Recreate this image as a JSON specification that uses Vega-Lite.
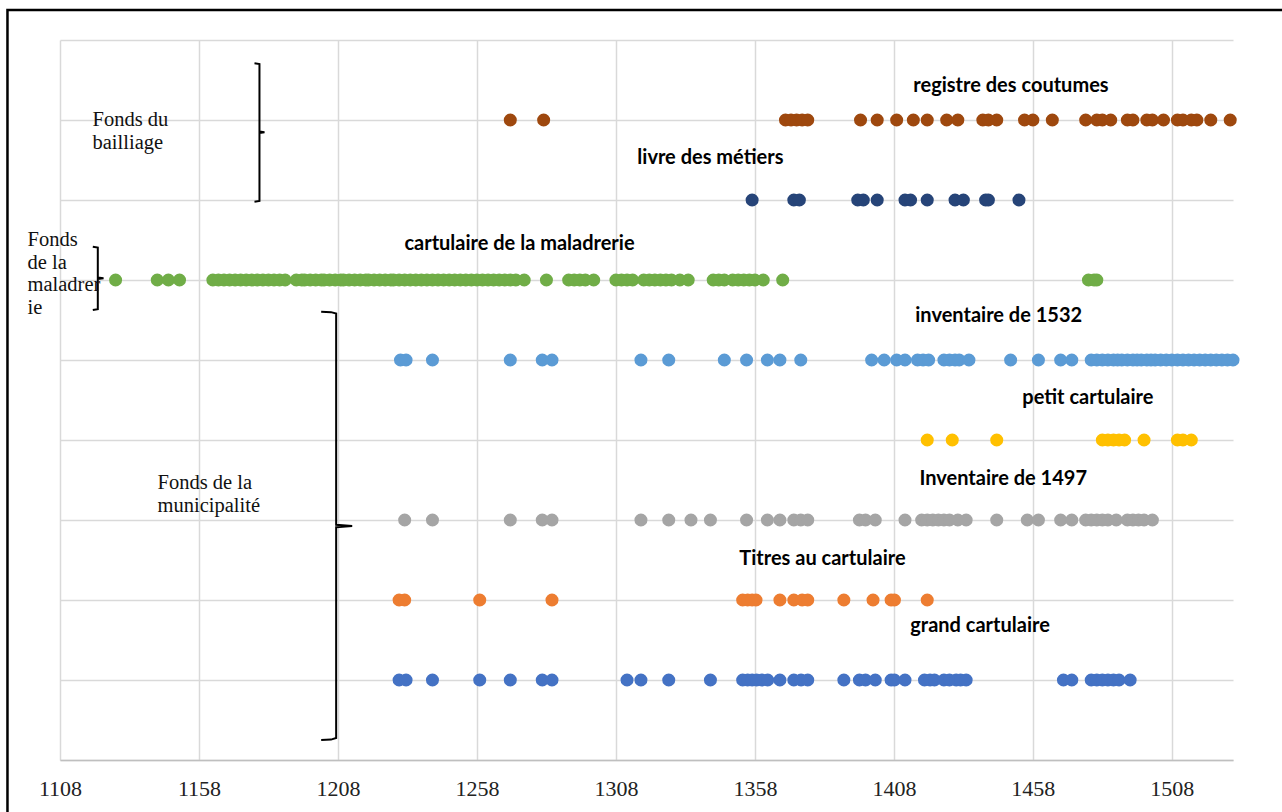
{
"$schema": "https://vega.github.io/schema/vega-lite/v6.json",
"width": 1173, "height": 720,
"autosize": "none",
"padding": {"left": 60, "top": 40, "right": 49, "bottom": 52},
"background": "white",
"config": {"view": {"stroke": null}},
"datasets": {
"frame": [{"year": 1089.1, "year_end": 1600, "row": 9.375, "row_end": -2}],
"points": [
{"doc":"registre des coutumes","row":8,"year":1270},{"doc":"registre des coutumes","row":8,"year":1282},{"doc":"registre des coutumes","row":8,"year":1369},{"doc":"registre des coutumes","row":8,"year":1371},{"doc":"registre des coutumes","row":8,"year":1373},{"doc":"registre des coutumes","row":8,"year":1375},{"doc":"registre des coutumes","row":8,"year":1377},{"doc":"registre des coutumes","row":8,"year":1396},{"doc":"registre des coutumes","row":8,"year":1402},{"doc":"registre des coutumes","row":8,"year":1409},{"doc":"registre des coutumes","row":8,"year":1415},{"doc":"registre des coutumes","row":8,"year":1420},{"doc":"registre des coutumes","row":8,"year":1427},{"doc":"registre des coutumes","row":8,"year":1431},{"doc":"registre des coutumes","row":8,"year":1440},{"doc":"registre des coutumes","row":8,"year":1442},{"doc":"registre des coutumes","row":8,"year":1445},{"doc":"registre des coutumes","row":8,"year":1455},{"doc":"registre des coutumes","row":8,"year":1458},{"doc":"registre des coutumes","row":8,"year":1465},{"doc":"registre des coutumes","row":8,"year":1477},{"doc":"registre des coutumes","row":8,"year":1481},{"doc":"registre des coutumes","row":8,"year":1483},{"doc":"registre des coutumes","row":8,"year":1486},{"doc":"registre des coutumes","row":8,"year":1492},{"doc":"registre des coutumes","row":8,"year":1494},{"doc":"registre des coutumes","row":8,"year":1499},{"doc":"registre des coutumes","row":8,"year":1501},{"doc":"registre des coutumes","row":8,"year":1505},{"doc":"registre des coutumes","row":8,"year":1510},{"doc":"registre des coutumes","row":8,"year":1512},{"doc":"registre des coutumes","row":8,"year":1515},{"doc":"registre des coutumes","row":8,"year":1517},{"doc":"registre des coutumes","row":8,"year":1522},{"doc":"registre des coutumes","row":8,"year":1529},
{"doc":"livre des métiers","row":7,"year":1357},{"doc":"livre des métiers","row":7,"year":1372},{"doc":"livre des métiers","row":7,"year":1374},{"doc":"livre des métiers","row":7,"year":1395},{"doc":"livre des métiers","row":7,"year":1397},{"doc":"livre des métiers","row":7,"year":1402},{"doc":"livre des métiers","row":7,"year":1412},{"doc":"livre des métiers","row":7,"year":1414},{"doc":"livre des métiers","row":7,"year":1420},{"doc":"livre des métiers","row":7,"year":1430},{"doc":"livre des métiers","row":7,"year":1433},{"doc":"livre des métiers","row":7,"year":1441},{"doc":"livre des métiers","row":7,"year":1442},{"doc":"livre des métiers","row":7,"year":1453},
{"doc":"cartulaire de la maladrerie","row":6,"year":1128},{"doc":"cartulaire de la maladrerie","row":6,"year":1143},{"doc":"cartulaire de la maladrerie","row":6,"year":1147},{"doc":"cartulaire de la maladrerie","row":6,"year":1151},{"doc":"cartulaire de la maladrerie","row":6,"year":1163},{"doc":"cartulaire de la maladrerie","row":6,"year":1165},{"doc":"cartulaire de la maladrerie","row":6,"year":1167},{"doc":"cartulaire de la maladrerie","row":6,"year":1169},{"doc":"cartulaire de la maladrerie","row":6,"year":1171},{"doc":"cartulaire de la maladrerie","row":6,"year":1173},{"doc":"cartulaire de la maladrerie","row":6,"year":1175},{"doc":"cartulaire de la maladrerie","row":6,"year":1177},{"doc":"cartulaire de la maladrerie","row":6,"year":1179},{"doc":"cartulaire de la maladrerie","row":6,"year":1181},{"doc":"cartulaire de la maladrerie","row":6,"year":1183},{"doc":"cartulaire de la maladrerie","row":6,"year":1185},{"doc":"cartulaire de la maladrerie","row":6,"year":1187},{"doc":"cartulaire de la maladrerie","row":6,"year":1189},{"doc":"cartulaire de la maladrerie","row":6,"year":1193},{"doc":"cartulaire de la maladrerie","row":6,"year":1195},{"doc":"cartulaire de la maladrerie","row":6,"year":1196},{"doc":"cartulaire de la maladrerie","row":6,"year":1198},{"doc":"cartulaire de la maladrerie","row":6,"year":1200},{"doc":"cartulaire de la maladrerie","row":6,"year":1202},{"doc":"cartulaire de la maladrerie","row":6,"year":1203},{"doc":"cartulaire de la maladrerie","row":6,"year":1205},{"doc":"cartulaire de la maladrerie","row":6,"year":1207},{"doc":"cartulaire de la maladrerie","row":6,"year":1209},{"doc":"cartulaire de la maladrerie","row":6,"year":1210},{"doc":"cartulaire de la maladrerie","row":6,"year":1212},{"doc":"cartulaire de la maladrerie","row":6,"year":1214},{"doc":"cartulaire de la maladrerie","row":6,"year":1216},{"doc":"cartulaire de la maladrerie","row":6,"year":1218},{"doc":"cartulaire de la maladrerie","row":6,"year":1219},{"doc":"cartulaire de la maladrerie","row":6,"year":1221},{"doc":"cartulaire de la maladrerie","row":6,"year":1223},{"doc":"cartulaire de la maladrerie","row":6,"year":1225},{"doc":"cartulaire de la maladrerie","row":6,"year":1227},{"doc":"cartulaire de la maladrerie","row":6,"year":1228},{"doc":"cartulaire de la maladrerie","row":6,"year":1230},{"doc":"cartulaire de la maladrerie","row":6,"year":1232},{"doc":"cartulaire de la maladrerie","row":6,"year":1234},{"doc":"cartulaire de la maladrerie","row":6,"year":1236},{"doc":"cartulaire de la maladrerie","row":6,"year":1238},{"doc":"cartulaire de la maladrerie","row":6,"year":1240},{"doc":"cartulaire de la maladrerie","row":6,"year":1242},{"doc":"cartulaire de la maladrerie","row":6,"year":1244},{"doc":"cartulaire de la maladrerie","row":6,"year":1246},{"doc":"cartulaire de la maladrerie","row":6,"year":1248},{"doc":"cartulaire de la maladrerie","row":6,"year":1250},{"doc":"cartulaire de la maladrerie","row":6,"year":1252},{"doc":"cartulaire de la maladrerie","row":6,"year":1254},{"doc":"cartulaire de la maladrerie","row":6,"year":1256},{"doc":"cartulaire de la maladrerie","row":6,"year":1258},{"doc":"cartulaire de la maladrerie","row":6,"year":1260},{"doc":"cartulaire de la maladrerie","row":6,"year":1262},{"doc":"cartulaire de la maladrerie","row":6,"year":1264},{"doc":"cartulaire de la maladrerie","row":6,"year":1266},{"doc":"cartulaire de la maladrerie","row":6,"year":1268},{"doc":"cartulaire de la maladrerie","row":6,"year":1270},{"doc":"cartulaire de la maladrerie","row":6,"year":1272},{"doc":"cartulaire de la maladrerie","row":6,"year":1275},{"doc":"cartulaire de la maladrerie","row":6,"year":1283},{"doc":"cartulaire de la maladrerie","row":6,"year":1291},{"doc":"cartulaire de la maladrerie","row":6,"year":1293},{"doc":"cartulaire de la maladrerie","row":6,"year":1295},{"doc":"cartulaire de la maladrerie","row":6,"year":1297},{"doc":"cartulaire de la maladrerie","row":6,"year":1300},{"doc":"cartulaire de la maladrerie","row":6,"year":1308},{"doc":"cartulaire de la maladrerie","row":6,"year":1310},{"doc":"cartulaire de la maladrerie","row":6,"year":1312},{"doc":"cartulaire de la maladrerie","row":6,"year":1314},{"doc":"cartulaire de la maladrerie","row":6,"year":1318},{"doc":"cartulaire de la maladrerie","row":6,"year":1320},{"doc":"cartulaire de la maladrerie","row":6,"year":1322},{"doc":"cartulaire de la maladrerie","row":6,"year":1324},{"doc":"cartulaire de la maladrerie","row":6,"year":1326},{"doc":"cartulaire de la maladrerie","row":6,"year":1328},{"doc":"cartulaire de la maladrerie","row":6,"year":1331},{"doc":"cartulaire de la maladrerie","row":6,"year":1334},{"doc":"cartulaire de la maladrerie","row":6,"year":1343},{"doc":"cartulaire de la maladrerie","row":6,"year":1345},{"doc":"cartulaire de la maladrerie","row":6,"year":1347},{"doc":"cartulaire de la maladrerie","row":6,"year":1350},{"doc":"cartulaire de la maladrerie","row":6,"year":1352},{"doc":"cartulaire de la maladrerie","row":6,"year":1354},{"doc":"cartulaire de la maladrerie","row":6,"year":1356},{"doc":"cartulaire de la maladrerie","row":6,"year":1358},{"doc":"cartulaire de la maladrerie","row":6,"year":1361},{"doc":"cartulaire de la maladrerie","row":6,"year":1368},{"doc":"cartulaire de la maladrerie","row":6,"year":1478},{"doc":"cartulaire de la maladrerie","row":6,"year":1480},{"doc":"cartulaire de la maladrerie","row":6,"year":1481},
{"doc":"inventaire de 1532","row":5,"year":1230.5},{"doc":"inventaire de 1532","row":5,"year":1232.5},{"doc":"inventaire de 1532","row":5,"year":1242},{"doc":"inventaire de 1532","row":5,"year":1270},{"doc":"inventaire de 1532","row":5,"year":1281.5},{"doc":"inventaire de 1532","row":5,"year":1285},{"doc":"inventaire de 1532","row":5,"year":1317},{"doc":"inventaire de 1532","row":5,"year":1327},{"doc":"inventaire de 1532","row":5,"year":1347},{"doc":"inventaire de 1532","row":5,"year":1355},{"doc":"inventaire de 1532","row":5,"year":1362.5},{"doc":"inventaire de 1532","row":5,"year":1367},{"doc":"inventaire de 1532","row":5,"year":1374.5},{"doc":"inventaire de 1532","row":5,"year":1400},{"doc":"inventaire de 1532","row":5,"year":1404.5},{"doc":"inventaire de 1532","row":5,"year":1409},{"doc":"inventaire de 1532","row":5,"year":1412},{"doc":"inventaire de 1532","row":5,"year":1416.5},{"doc":"inventaire de 1532","row":5,"year":1418.5},{"doc":"inventaire de 1532","row":5,"year":1420.5},{"doc":"inventaire de 1532","row":5,"year":1426},{"doc":"inventaire de 1532","row":5,"year":1428},{"doc":"inventaire de 1532","row":5,"year":1430},{"doc":"inventaire de 1532","row":5,"year":1431.5},{"doc":"inventaire de 1532","row":5,"year":1435},{"doc":"inventaire de 1532","row":5,"year":1450},{"doc":"inventaire de 1532","row":5,"year":1460},{"doc":"inventaire de 1532","row":5,"year":1468},{"doc":"inventaire de 1532","row":5,"year":1472},{"doc":"inventaire de 1532","row":5,"year":1479},{"doc":"inventaire de 1532","row":5,"year":1481},{"doc":"inventaire de 1532","row":5,"year":1483},{"doc":"inventaire de 1532","row":5,"year":1485},{"doc":"inventaire de 1532","row":5,"year":1487},{"doc":"inventaire de 1532","row":5,"year":1488.5},{"doc":"inventaire de 1532","row":5,"year":1490},{"doc":"inventaire de 1532","row":5,"year":1492},{"doc":"inventaire de 1532","row":5,"year":1494},{"doc":"inventaire de 1532","row":5,"year":1495.5},{"doc":"inventaire de 1532","row":5,"year":1497},{"doc":"inventaire de 1532","row":5,"year":1499},{"doc":"inventaire de 1532","row":5,"year":1500.5},{"doc":"inventaire de 1532","row":5,"year":1502},{"doc":"inventaire de 1532","row":5,"year":1504},{"doc":"inventaire de 1532","row":5,"year":1506},{"doc":"inventaire de 1532","row":5,"year":1508},{"doc":"inventaire de 1532","row":5,"year":1510},{"doc":"inventaire de 1532","row":5,"year":1512},{"doc":"inventaire de 1532","row":5,"year":1514},{"doc":"inventaire de 1532","row":5,"year":1516},{"doc":"inventaire de 1532","row":5,"year":1518},{"doc":"inventaire de 1532","row":5,"year":1520},{"doc":"inventaire de 1532","row":5,"year":1522},{"doc":"inventaire de 1532","row":5,"year":1524},{"doc":"inventaire de 1532","row":5,"year":1526},{"doc":"inventaire de 1532","row":5,"year":1528},{"doc":"inventaire de 1532","row":5,"year":1530},
{"doc":"petit cartulaire","row":4,"year":1420},{"doc":"petit cartulaire","row":4,"year":1429},{"doc":"petit cartulaire","row":4,"year":1445},{"doc":"petit cartulaire","row":4,"year":1483},{"doc":"petit cartulaire","row":4,"year":1485},{"doc":"petit cartulaire","row":4,"year":1487},{"doc":"petit cartulaire","row":4,"year":1489},{"doc":"petit cartulaire","row":4,"year":1491},{"doc":"petit cartulaire","row":4,"year":1498},{"doc":"petit cartulaire","row":4,"year":1510},{"doc":"petit cartulaire","row":4,"year":1512},{"doc":"petit cartulaire","row":4,"year":1515},
{"doc":"Inventaire de 1497","row":3,"year":1232},{"doc":"Inventaire de 1497","row":3,"year":1242},{"doc":"Inventaire de 1497","row":3,"year":1270},{"doc":"Inventaire de 1497","row":3,"year":1281.5},{"doc":"Inventaire de 1497","row":3,"year":1285},{"doc":"Inventaire de 1497","row":3,"year":1317},{"doc":"Inventaire de 1497","row":3,"year":1327},{"doc":"Inventaire de 1497","row":3,"year":1335},{"doc":"Inventaire de 1497","row":3,"year":1342},{"doc":"Inventaire de 1497","row":3,"year":1355},{"doc":"Inventaire de 1497","row":3,"year":1362.5},{"doc":"Inventaire de 1497","row":3,"year":1367},{"doc":"Inventaire de 1497","row":3,"year":1372},{"doc":"Inventaire de 1497","row":3,"year":1374.5},{"doc":"Inventaire de 1497","row":3,"year":1377},{"doc":"Inventaire de 1497","row":3,"year":1395.6},{"doc":"Inventaire de 1497","row":3,"year":1397.8},{"doc":"Inventaire de 1497","row":3,"year":1401.3},{"doc":"Inventaire de 1497","row":3,"year":1412},{"doc":"Inventaire de 1497","row":3,"year":1418},{"doc":"Inventaire de 1497","row":3,"year":1420},{"doc":"Inventaire de 1497","row":3,"year":1422},{"doc":"Inventaire de 1497","row":3,"year":1424},{"doc":"Inventaire de 1497","row":3,"year":1426},{"doc":"Inventaire de 1497","row":3,"year":1428},{"doc":"Inventaire de 1497","row":3,"year":1431},{"doc":"Inventaire de 1497","row":3,"year":1434},{"doc":"Inventaire de 1497","row":3,"year":1445},{"doc":"Inventaire de 1497","row":3,"year":1456},{"doc":"Inventaire de 1497","row":3,"year":1460},{"doc":"Inventaire de 1497","row":3,"year":1468},{"doc":"Inventaire de 1497","row":3,"year":1472},{"doc":"Inventaire de 1497","row":3,"year":1477},{"doc":"Inventaire de 1497","row":3,"year":1479},{"doc":"Inventaire de 1497","row":3,"year":1481},{"doc":"Inventaire de 1497","row":3,"year":1483},{"doc":"Inventaire de 1497","row":3,"year":1485},{"doc":"Inventaire de 1497","row":3,"year":1488},{"doc":"Inventaire de 1497","row":3,"year":1492},{"doc":"Inventaire de 1497","row":3,"year":1494},{"doc":"Inventaire de 1497","row":3,"year":1496},{"doc":"Inventaire de 1497","row":3,"year":1498},{"doc":"Inventaire de 1497","row":3,"year":1501},
{"doc":"Titres au cartulaire","row":2,"year":1230},{"doc":"Titres au cartulaire","row":2,"year":1232},{"doc":"Titres au cartulaire","row":2,"year":1259},{"doc":"Titres au cartulaire","row":2,"year":1285},{"doc":"Titres au cartulaire","row":2,"year":1353.6},{"doc":"Titres au cartulaire","row":2,"year":1355.4},{"doc":"Titres au cartulaire","row":2,"year":1357},{"doc":"Titres au cartulaire","row":2,"year":1358.4},{"doc":"Titres au cartulaire","row":2,"year":1367},{"doc":"Titres au cartulaire","row":2,"year":1372},{"doc":"Titres au cartulaire","row":2,"year":1375},{"doc":"Titres au cartulaire","row":2,"year":1377},{"doc":"Titres au cartulaire","row":2,"year":1390},{"doc":"Titres au cartulaire","row":2,"year":1400.5},{"doc":"Titres au cartulaire","row":2,"year":1407},{"doc":"Titres au cartulaire","row":2,"year":1408.2},{"doc":"Titres au cartulaire","row":2,"year":1420},
{"doc":"grand cartulaire","row":1,"year":1230},{"doc":"grand cartulaire","row":1,"year":1232.5},{"doc":"grand cartulaire","row":1,"year":1242},{"doc":"grand cartulaire","row":1,"year":1259},{"doc":"grand cartulaire","row":1,"year":1270},{"doc":"grand cartulaire","row":1,"year":1281.5},{"doc":"grand cartulaire","row":1,"year":1285},{"doc":"grand cartulaire","row":1,"year":1312},{"doc":"grand cartulaire","row":1,"year":1317},{"doc":"grand cartulaire","row":1,"year":1327},{"doc":"grand cartulaire","row":1,"year":1342},{"doc":"grand cartulaire","row":1,"year":1353.6},{"doc":"grand cartulaire","row":1,"year":1355.4},{"doc":"grand cartulaire","row":1,"year":1357},{"doc":"grand cartulaire","row":1,"year":1358.6},{"doc":"grand cartulaire","row":1,"year":1360.5},{"doc":"grand cartulaire","row":1,"year":1362.6},{"doc":"grand cartulaire","row":1,"year":1367},{"doc":"grand cartulaire","row":1,"year":1372},{"doc":"grand cartulaire","row":1,"year":1374.6},{"doc":"grand cartulaire","row":1,"year":1377},{"doc":"grand cartulaire","row":1,"year":1390},{"doc":"grand cartulaire","row":1,"year":1395.6},{"doc":"grand cartulaire","row":1,"year":1397.8},{"doc":"grand cartulaire","row":1,"year":1401.3},{"doc":"grand cartulaire","row":1,"year":1407},{"doc":"grand cartulaire","row":1,"year":1408.2},{"doc":"grand cartulaire","row":1,"year":1412},{"doc":"grand cartulaire","row":1,"year":1419},{"doc":"grand cartulaire","row":1,"year":1421},{"doc":"grand cartulaire","row":1,"year":1422.6},{"doc":"grand cartulaire","row":1,"year":1426},{"doc":"grand cartulaire","row":1,"year":1428},{"doc":"grand cartulaire","row":1,"year":1430.4},{"doc":"grand cartulaire","row":1,"year":1432},{"doc":"grand cartulaire","row":1,"year":1434},{"doc":"grand cartulaire","row":1,"year":1469},{"doc":"grand cartulaire","row":1,"year":1472},{"doc":"grand cartulaire","row":1,"year":1479},{"doc":"grand cartulaire","row":1,"year":1481},{"doc":"grand cartulaire","row":1,"year":1483},{"doc":"grand cartulaire","row":1,"year":1485},{"doc":"grand cartulaire","row":1,"year":1487},{"doc":"grand cartulaire","row":1,"year":1489},{"doc":"grand cartulaire","row":1,"year":1493}
],
"labels": [
{"label":"registre des coutumes","year":1415.0,"row":8.425},
{"label":"livre des métiers","year":1315.7,"row":7.525},
{"label":"cartulaire de la maladrerie","year":1231.9,"row":6.45},
{"label":"inventaire de 1532","year":1415.7,"row":5.55},
{"label":"petit cartulaire","year":1454.2,"row":4.525},
{"label":"Inventaire de 1497","year":1417.2,"row":3.5125},
{"label":"Titres au cartulaire","year":1352.4,"row":2.5125},
{"label":"grand cartulaire","year":1413.9,"row":1.675}
],
"groups": [
{"label":"Fonds du\nbailliage","year":1119.7,"row":8.0},
{"label":"Fonds\nde la\nmaladrer\nie","year":1096.3,"row":6.5},
{"label":"Fonds de la\nmunicipalité","year":1143.1,"row":3.4625}
],
"brackets": [
{"b":1,"i":0,"year":1177.97,"row":8.709},{"b":1,"i":1,"year":1179.76,"row":8.70},{"b":1,"i":2,"year":1179.76,"row":7.855},{"b":1,"i":3,"year":1181.56,"row":7.846},{"b":1,"i":4,"year":1179.76,"row":7.837},{"b":1,"i":5,"year":1179.76,"row":6.988},{"b":1,"i":6,"year":1177.97,"row":6.979},
{"b":2,"i":0,"year":1119.8,"row":6.416},{"b":2,"i":1,"year":1121.6,"row":6.405},{"b":2,"i":2,"year":1121.6,"row":6.03},{"b":2,"i":3,"year":1123.65,"row":6.021},{"b":2,"i":4,"year":1121.6,"row":6.012},{"b":2,"i":5,"year":1121.6,"row":5.636},{"b":2,"i":6,"year":1119.8,"row":5.625},
{"b":3,"i":0,"year":1201.96,"row":5.604},{"b":3,"i":1,"year":1205.5,"row":5.598},{"b":3,"i":2,"year":1207.35,"row":5.58},{"b":3,"i":3,"year":1207.35,"row":2.94},{"b":3,"i":4,"year":1213.11,"row":2.925},{"b":3,"i":5,"year":1207.35,"row":2.91},{"b":3,"i":6,"year":1207.35,"row":0.275},{"b":3,"i":7,"year":1205.5,"row":0.255},{"b":3,"i":8,"year":1201.96,"row":0.25}
]
},
"encoding": {
"x": {"field": "year", "type": "quantitative",
  "scale": {"domain": [1108, 1530], "nice": false, "zero": false},
  "axis": {"values": [1108,1158,1208,1258,1308,1358,1408,1458,1508], "format": "d", "title": null,
    "grid": true, "gridColor": "#d9d9d9", "gridWidth": 1.5, "ticks": false, "tickSize": 0,
    "domainColor": "#bfbfbf", "domainWidth": 1.5,
    "labelFont": "Liberation Serif", "labelFontSize": 22, "labelColor": "#222222",
    "labelPadding": 28, "labelBaseline": "middle", "labelFlush": false}},
"y": {"field": "row", "type": "quantitative",
  "scale": {"domain": [0, 9], "nice": false, "zero": false},
  "axis": {"values": [0,1,2,3,4,5,6,7,8,9], "title": null, "labels": false, "ticks": false, "domain": false,
    "grid": true, "gridColor": "#d9d9d9", "gridWidth": 1.5}}
},
"layer": [
{"data": {"name": "frame"},
 "mark": {"type": "rect", "fillOpacity": 0, "stroke": "black", "strokeWidth": 2.5, "clip": false},
 "encoding": {"x2": {"field": "year_end"}, "y2": {"field": "row_end"}}},
{"data": {"name": "brackets"},
 "mark": {"type": "line", "color": "black", "strokeWidth": 2, "interpolate": "linear"},
 "encoding": {"detail": {"field": "b", "type": "nominal"}, "order": {"field": "i", "type": "quantitative"}}},
{"data": {"name": "points"},
 "mark": {"type": "circle", "size": 170, "opacity": 1},
 "encoding": {"color": {"field": "doc", "type": "nominal", "legend": null,
   "scale": {"domain": ["registre des coutumes","livre des métiers","cartulaire de la maladrerie","inventaire de 1532","petit cartulaire","Inventaire de 1497","Titres au cartulaire","grand cartulaire"],
             "range": ["#9E480E","#264478","#70AD47","#5B9BD5","#FFC000","#A5A5A5","#ED7D31","#4472C4"]}}}},
{"data": {"name": "labels"},
 "mark": {"type": "text", "font": "Lato", "fontWeight": "bold", "fontSize": 20, "align": "left", "baseline": "middle", "color": "black"},
 "encoding": {"text": {"field": "label"}}},
{"data": {"name": "groups"},
 "mark": {"type": "text", "font": "Liberation Serif", "fontSize": 20.5, "align": "left", "baseline": "middle", "color": "#111111", "lineBreak": "\n", "lineHeight": 22.5},
 "encoding": {"text": {"field": "label"}}}
]
}
